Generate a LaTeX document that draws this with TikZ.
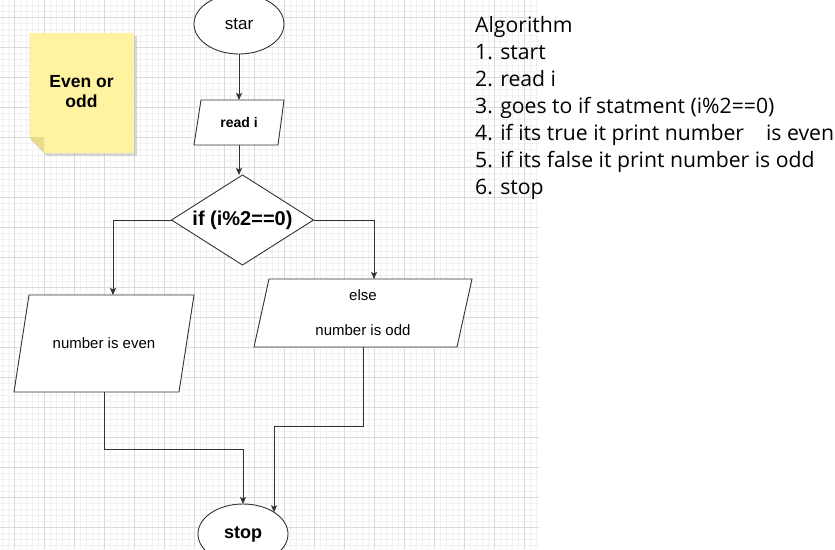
\documentclass[tikz,border=0pt]{standalone}
\usepackage{fontspec}
\setmainfont{Liberation Sans}
\newfontfamily\algfont{Open Sans}
\usetikzlibrary{shapes.geometric,arrows.meta,calc,backgrounds}
\definecolor{minorgrid}{HTML}{F1F1F1}
\definecolor{majorgrid}{HTML}{DADADA}
\definecolor{stroke}{HTML}{333333}
\definecolor{notefill}{HTML}{FFF2A1}
\definecolor{notefold}{HTML}{E9D98C}
\tikzset{
  box/.style={draw=stroke, line width=0.9pt, fill=white, inner sep=0pt, outer sep=0pt},
  term/.style={box, ellipse, minimum width=90pt, minimum height=60pt},
  iobox/.style={rectangle, draw=none, inner sep=0pt, outer sep=0pt},
  arr/.style={draw=stroke, line width=0.9pt, -{Stealth[length=7pt,width=6pt,inset=1.5pt]}},
  algline/.style={anchor=base west, inner sep=0pt, font=\algfont\fontsize{21.2}{27}\selectfont},
  gridminor/.style={draw=minorgrid, line width=0.8pt},
  gridmajor/.style={draw=majorgrid, line width=0.8pt},
}
\begin{document}
\begin{tikzpicture}[x=1pt,y=-1pt]
\useasboundingbox (0,0) rectangle (835,549);

% sticky note
\fill[black!30, opacity=0.5] (31,36) -- (137,36) -- (137,156) -- (47,156) -- (31,140) -- cycle;
\fill[notefill] (29,33) -- (134,33) -- (134,153) -- (44,153) -- (29,137) -- cycle;
\fill[notefold] (29,137) -- (44,137) -- (44,153) -- cycle;
\node[font=\bfseries\fontsize{17.5}{20}\selectfont, align=center] (note) at (81.5,92) {Even or\\odd};

% flowchart
\node[term, font=\fontsize{17}{20}\selectfont] (start) at (239,24) {star};
\node[iobox, minimum width=90pt, minimum height=45pt,
      font=\bfseries\fontsize{14}{16}\selectfont] (read) at (239,122.5) {read i};
\node[box, diamond, aspect=1.58, minimum width=142pt, minimum height=90pt,
      font=\bfseries\fontsize{20}{24}\selectfont] (dec) at (242.5,220) {if (i\%2==0)};
\node[iobox, minimum width=180pt, minimum height=97pt,
      font=\fontsize{15}{18}\selectfont] (even) at (104,343.5) {number is even};
\node[iobox, minimum width=218pt, minimum height=68pt,
      align=center, font=\fontsize{15}{17.5}\selectfont] (odd) at (363,313) {else\\[17.5pt]number is odd};
\node[term, font=\bfseries\fontsize{18}{22}\selectfont] (stop) at (243,534) {stop};

\begin{scope}[on background layer]
  \fill[white] (0,0) rectangle (835,549);
  % grid
  \foreach \x in {2,8,...,536} \draw[gridminor] (\x,0) -- (\x,549);
  \foreach \y in {5,11,...,545} \draw[gridminor] (0,\y) -- (539,\y);
  \foreach \x in {14,44,...,524} \draw[gridmajor] (\x,0) -- (\x,549);
  \foreach \y in {17,47,...,527} \draw[gridmajor] (0,\y) -- (539,\y);
  % parallelograms
  \draw[box] ([xshift=7pt]read.north west) -- (read.north east)
     -- ([xshift=-6pt]read.south east) -- (read.south west) -- cycle;
  \draw[box] ([xshift=15pt]even.north west) -- (even.north east)
     -- ([xshift=-15pt]even.south east) -- (even.south west) -- cycle;
  \draw[box] ([xshift=15pt]odd.north west) -- (odd.north east)
     -- ([xshift=-15pt]odd.south east) -- (odd.south west) -- cycle;
\end{scope}

\draw[arr] (start) -- (read);
\draw[arr] (read.south) -- (read.south |- dec.north);
\draw[arr] (dec.west) -| ([xshift=9pt]even.north);
\draw[arr] (dec.east) -| ([xshift=11pt]odd.north);
\draw[arr] (even.south) -- ++(0,57) -| (stop.north);
\draw[arr] (odd.south) -- ++(0,79) -| (stop.35);

% algorithm text
\node[algline] (a0) at (475,32) {Algorithm};
\node[algline] (a1) at (475,59) {1. start};
\node[algline] (a2) at (475,86) {2. read i};
\node[algline] (a3) at (475,113) {3. goes to if statment (i\%2==0)};
\node[algline] (a4) at (475,140) {4. if its true it print number\ \ \ \ is even};
\node[algline] (a5) at (475,167) {5. if its false it print number is odd};
\node[algline] (a6) at (475,194) {6. stop};
\end{tikzpicture}
\end{document}
